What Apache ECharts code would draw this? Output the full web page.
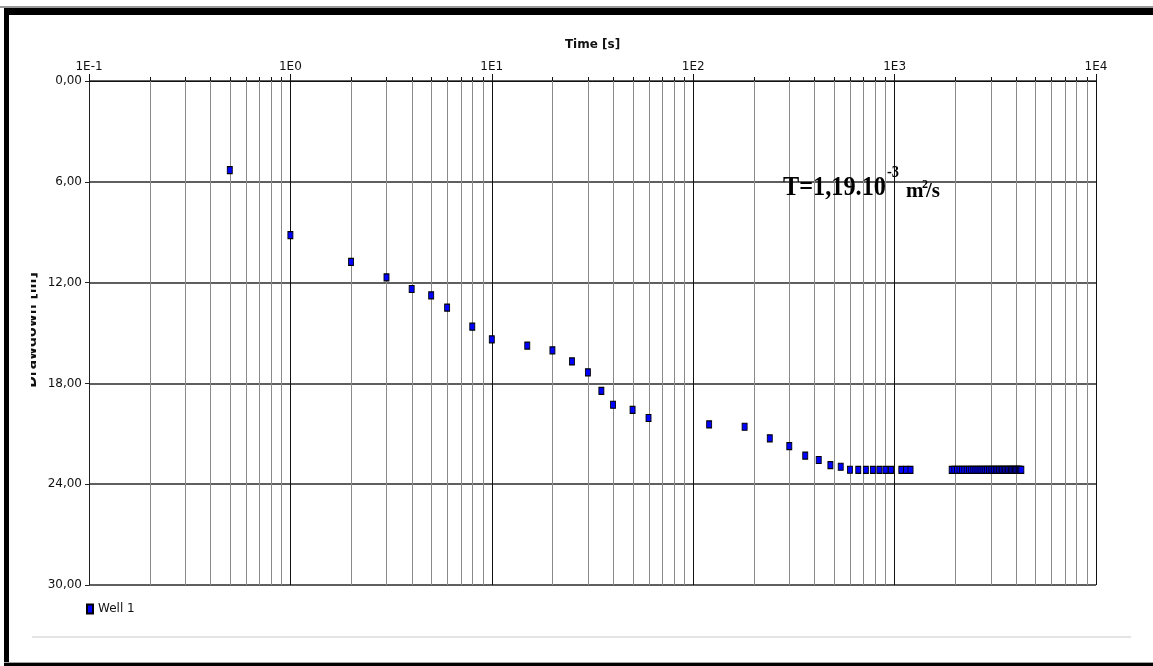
<!DOCTYPE html>
<html>
<head>
<meta charset="utf-8">
<script src="https://cdn.jsdelivr.net/npm/echarts@6/dist/echarts.min.js"></script>
<style>
html,body{margin:0;padding:0;background:#fff;}
#chart{width:1153px;height:666px;}
</style>
</head>
<body>
<div id="chart"></div>
<script>
// ---- data ----
const timeS = [0.5, 1, 2, 3, 4, 5, 6, 8, 10, 15, 20, 25, 30, 35, 40, 50, 60,
  120, 180, 240, 300, 360, 420, 480, 540, 600, 660, 720, 780, 840, 900, 960,
  1080, 1140, 1200,
  1920, 1980, 2040, 2100, 2160, 2220, 2280, 2340, 2400, 2460, 2520, 2580, 2640, 2700,
  2760, 2820, 2880, 2940, 3000, 3060, 3120, 3180, 3240, 3300, 3360, 3420, 3480, 3540,
  3600, 3660, 3720, 3780, 3840, 3900, 3960, 4020, 4080, 4140, 4200, 4260];
const drawdownM = [5.30, 9.17, 10.77, 11.69, 12.38, 12.76, 13.49, 14.62, 15.38, 15.75,
  16.03, 16.69, 17.34, 18.45, 19.27, 19.58, 20.06,
  20.44, 20.58, 21.27, 21.73, 22.30, 22.56, 22.86, 22.96, 23.14, 23.15, 23.15, 23.15, 23.15, 23.15, 23.15,
  23.15, 23.15, 23.15,
  23.15, 23.15, 23.15, 23.15, 23.15, 23.15, 23.15, 23.15, 23.15, 23.15, 23.15, 23.15, 23.15, 23.15,
  23.15, 23.15, 23.15, 23.15, 23.15, 23.15, 23.15, 23.15, 23.15, 23.15, 23.15, 23.15, 23.15, 23.15,
  23.15, 23.15, 23.15, 23.15, 23.15, 23.15, 23.15, 23.15, 23.15, 23.15, 23.15, 23.15];
const seriesName = 'Well 1';
const xTickLabels = ['1E-1', '1E0', '1E1', '1E2', '1E3', '1E4'];
const yTickValues = [0, 6, 12, 18, 24, 30];
const yTickLabels = ['0,00', '6,00', '12,00', '18,00', '24,00', '30,00'];
const minorTicksS = [0.2, 0.3, 0.4, 0.5, 0.6, 0.7, 0.8, 0.9,
  2, 3, 4, 5, 6, 7, 8, 9,
  20, 30, 40, 50, 60, 70, 80, 90,
  200, 300, 400, 500, 600, 700, 800, 900,
  2000, 3000, 4000, 5000, 6000, 7000, 8000, 9000];
const xTitle = 'Time [s]';
const yTitle = 'Drawdown [m]';

const points = timeS.map((t, i) => [t, drawdownM[i]]);
const LABEL_FONT = '"DejaVu Sans", Tahoma, sans-serif';
const SERIF = '"Liberation Serif", "DejaVu Serif", serif';

const chart = echarts.init(document.getElementById('chart'), null, {renderer: 'canvas'});
chart.setOption({
  animation: false,
  backgroundColor: '#ffffff',
  grid: {left: 89, right: 57, top: 81, bottom: 81, containLabel: false},
  legend: {
    data: [{name: seriesName, icon: 'rect'}],
    left: 86, top: 603, padding: 0,
    itemWidth: 6, itemHeight: 9, itemGap: 10,
    textStyle: {fontFamily: LABEL_FONT, fontSize: 12, color: '#111'}
  },
  xAxis: {
    type: 'log', logBase: 10, min: 0.1, max: 10000,
    position: 'top',
    name: xTitle, nameLocation: 'middle', nameGap: 30,
    nameTextStyle: {fontFamily: LABEL_FONT, fontWeight: 'bold', fontSize: 12, color: '#111'},
    axisLine: {show: true, lineStyle: {color: '#111', width: 1}},
    axisTick: {show: true, length: 7, lineStyle: {color: '#111'}},
    axisLabel: {
      fontFamily: LABEL_FONT, fontSize: 12, color: '#111', margin: 8,
      formatter: v => xTickLabels[Math.round(Math.log10(v)) + 1]
    },
    splitLine: {show: true, lineStyle: {color: '#111', width: 1}}
  },
  yAxis: {
    type: 'value', inverse: true, min: 0, max: 30, interval: 6,
    axisLine: {show: true, lineStyle: {color: '#222', width: 1}},
    axisTick: {show: true, length: 4, lineStyle: {color: '#222'}},
    axisLabel: {
      fontFamily: LABEL_FONT, fontSize: 12, color: '#111', margin: 7,
      formatter: v => yTickLabels[yTickValues.indexOf(v)]
    },
    splitLine: {show: true, lineStyle: {color: '#2a2a2a', width: 1.5}}
  },
  series: [
    {
      name: 'minor',
      type: 'custom',
      z: 1,
      silent: true,
      data: minorTicksS.map(v => [v, 0]),
      renderItem: function (params, api) {
        const x = api.value(0);
        const top = api.coord([x, 0]);
        const bot = api.coord([x, 30]);
        const px = Math.round(top[0]) + 0.5;
        return {
          type: 'group',
          children: [
            {type: 'line', shape: {x1: px, y1: top[1], x2: px, y2: bot[1]},
             style: {stroke: '#8a8a8a', lineWidth: 1}},
            {type: 'line', shape: {x1: px, y1: top[1] - 4, x2: px, y2: top[1]},
             style: {stroke: '#111', lineWidth: 1}}
          ]
        };
      }
    },
    {
      name: seriesName,
      type: 'scatter',
      z: 5,
      symbol: 'rect',
      symbolSize: [5, 7],
      itemStyle: {color: '#0000ff', borderColor: '#000', borderWidth: 1, opacity: 1},
      data: points
    }
  ],
  graphic: [
    // outer frame
    {type: 'rect', z: 100, shape: {x: 0, y: 6, width: 1153, height: 2}, style: {fill: '#9a9a9a'}},
    {type: 'rect', z: 100, shape: {x: 4, y: 8, width: 1149, height: 7}, style: {fill: '#000'}},
    {type: 'rect', z: 100, shape: {x: 4, y: 8, width: 5, height: 658}, style: {fill: '#000'}},
    {type: 'rect', z: 100, shape: {x: 4, y: 662, width: 1149, height: 1}, style: {fill: '#a0a0a0'}},
    {type: 'rect', z: 100, shape: {x: 4, y: 663, width: 1149, height: 3}, style: {fill: '#000'}},
    // light separator below legend
    {type: 'rect', z: 50, shape: {x: 32, y: 636, width: 1099, height: 2}, style: {fill: '#e4e4e4'}},
    // y axis title (partly clipped as in the reference)
    {type: 'text', z: 60, x: 39, y: 330, rotation: Math.PI / 2,
     style: {text: yTitle, font: 'bold 14px ' + LABEL_FONT, fill: '#111',
             textAlign: 'center', align: 'center', textVerticalAlign: 'bottom', verticalAlign: 'bottom'}},
    {type: 'rect', z: 61, shape: {x: 10, y: 240, width: 21, height: 180}, style: {fill: '#fff'}},
    // annotation
    {type: 'text', z: 70, x: 783, y: 188, scaleX: 0.9,
     style: {text: 'T=1,19.10', font: 'bold 27px ' + SERIF, fill: '#000',
             textAlign: 'left', align: 'left', textVerticalAlign: 'middle', verticalAlign: 'middle'}},
    {type: 'text', z: 70, x: 887, y: 173, scaleX: 0.9,
     style: {text: '-3', font: 'bold 16px ' + SERIF, fill: '#000',
             textAlign: 'left', align: 'left', textVerticalAlign: 'middle', verticalAlign: 'middle'}},
    {type: 'text', z: 70, x: 906, y: 192,
     style: {text: 'm', font: 'bold 21px ' + SERIF, fill: '#000',
             textAlign: 'left', align: 'left', textVerticalAlign: 'middle', verticalAlign: 'middle'}},
    {type: 'text', z: 70, x: 922, y: 185,
     style: {text: '2', font: 'bold 12px ' + SERIF, fill: '#000',
             textAlign: 'left', align: 'left', textVerticalAlign: 'middle', verticalAlign: 'middle'}},
    {type: 'text', z: 70, x: 926, y: 192,
     style: {text: '/s', font: 'bold 21px ' + SERIF, fill: '#000',
             textAlign: 'left', align: 'left', textVerticalAlign: 'middle', verticalAlign: 'middle'}}
  ]
});
</script>
</body>
</html>
